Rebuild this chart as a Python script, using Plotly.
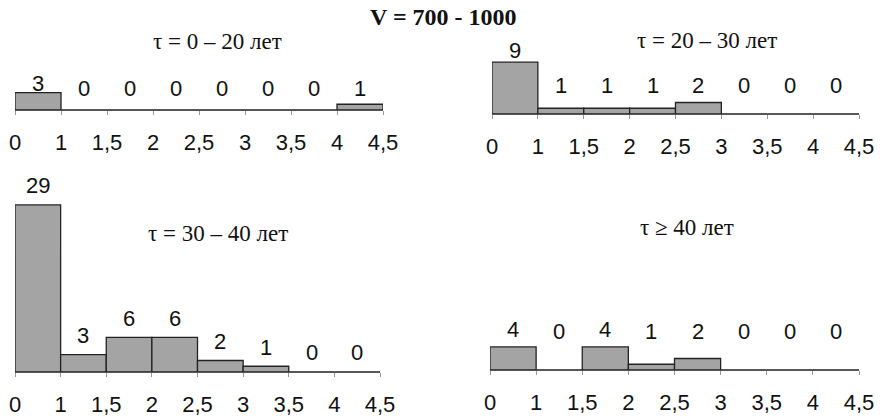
import plotly.graph_objects as go

# ---- data ----
bin_edges_labels = ["0", "1", "1,5", "2", "2,5", "3", "3,5", "4", "4,5"]
counts_0_20 = [3, 0, 0, 0, 0, 0, 0, 1]
counts_20_30 = [9, 1, 1, 1, 2, 0, 0, 0]
counts_30_40 = [29, 3, 6, 6, 2, 1, 0, 0]
counts_40_plus = [4, 0, 4, 1, 2, 0, 0, 0]
panel_titles = ["τ = 0 – 20 лет", "τ = 20 – 30 лет", "τ = 30 – 40 лет", "τ ≥ 40 лет"]
main_title = "V = 700 - 1000"

W, H = 888, 420
SCALE = 5.76  # px per count unit

# layout per panel: x0, x1, baseline(px), ymax, label gap, label floor, title x, title y
panels = [
    (counts_0_20, 15, 383, 110, 6, 9, 21, 217, 42),
    (counts_20_30, 492, 859, 114, 10, 12, 28, 707, 40),
    (counts_30_40, 15, 380, 372, 30, 19, 20, 218, 233),
    (counts_40_plus, 490, 859, 370, 6, 17, 39, 687, 228),
]

fig = go.Figure()
annotations = []
centers = [i + 0.5 for i in range(len(bin_edges_labels) - 1)]

for k, (vals, x0, x1, base, ymax, gap, floor, tx, ty) in enumerate(panels):
    n = k + 1
    xa = "x" if n == 1 else f"x{n}"
    ya = "y" if n == 1 else f"y{n}"
    fig.add_trace(go.Bar(
        x=centers, y=vals, width=1.0,
        marker=dict(color="#a4a4a4", line=dict(color="#222222", width=1.3)),
        xaxis=xa, yaxis=ya, showlegend=False, hoverinfo="skip",
        cliponaxis=False,
    ))
    xkey = "xaxis" if n == 1 else f"xaxis{n}"
    ykey = "yaxis" if n == 1 else f"yaxis{n}"
    fig.update_layout(**{
        xkey: dict(
            domain=[x0 / W, x1 / W], anchor=ya, range=[0, len(centers)],
            tickmode="array", tickvals=list(range(len(bin_edges_labels))),
            ticktext=bin_edges_labels, showline=True, linecolor="#555",
            linewidth=1, ticks="outside", ticklen=4, tickcolor="#999",
            showgrid=False, zeroline=False, ticklabelstandoff=9,
            tickfont=dict(family="Liberation Sans, Arial", size=22, color="#111"),
            fixedrange=True, automargin=False,
        ),
        ykey: dict(
            domain=[(H - base) / H, (H - base + ymax * SCALE) / H],
            anchor=xa, range=[0, ymax], visible=False, fixedrange=True,
            automargin=False,
        ),
    })
    for c, v in zip(centers, vals):
        annotations.append(dict(
            x=c, y=v, xref=xa, yref=ya, text=str(v), showarrow=False,
            yanchor="middle", yshift=max(gap, floor - v * SCALE),
            font=dict(family="Liberation Sans, Arial", size=22, color="#111"),
        ))
    annotations.append(dict(
        x=tx / W, y=1 - ty / H, xref="paper", yref="paper", text=panel_titles[k],
        showarrow=False, xanchor="center", yanchor="middle",
        font=dict(family="Liberation Serif, Times New Roman", size=23, color="#111"),
    ))

annotations.append(dict(
    x=443 / W, y=1 - 17 / H, xref="paper", yref="paper", text=f"<b>{main_title}</b>",
    showarrow=False, xanchor="center", yanchor="middle",
    font=dict(family="Liberation Serif, Times New Roman", size=24, color="#111"),
))

fig.update_layout(
    width=W, height=H, margin=dict(l=0, r=0, t=0, b=0, autoexpand=False),
    paper_bgcolor="white", plot_bgcolor="white", bargap=0,
    annotations=annotations,
)

fig.write_html(
    "out.html",
    config={"displayModeBar": False, "staticPlot": True},
    post_script="document.body.style.margin='0';document.body.style.overflow='hidden';",
)
